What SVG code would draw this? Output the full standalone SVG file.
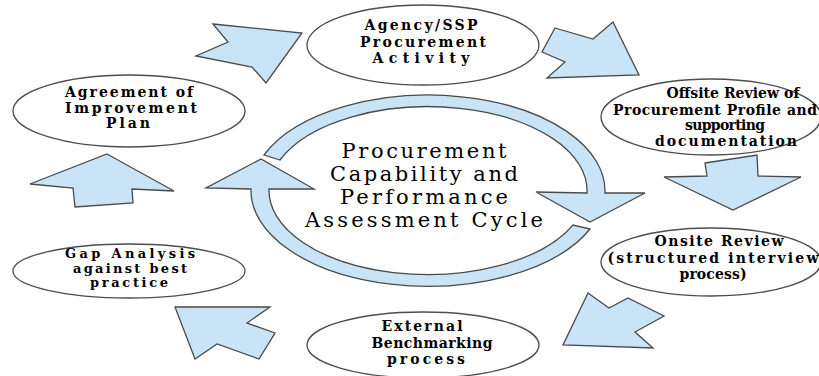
<svg xmlns="http://www.w3.org/2000/svg" width="819" height="376" viewBox="0 0 819 376">
<style>
.bg{fill:#ffffff}
.node{fill:#ffffff;stroke:#4d4d4d;stroke-width:1.3}
.arw{fill:#c9e4f7;stroke:#4a4a4a;stroke-width:1.3;stroke-linejoin:miter}
.t{font-family:"DejaVu Serif","Liberation Serif",serif;font-weight:bold;font-size:14px;fill:#000;text-anchor:middle}
.s{font-size:13px}
.c{font-family:"DejaVu Serif","Liberation Serif",serif;font-size:21px;fill:#000;text-anchor:middle}
</style>
<rect class="bg" x="0" y="0" width="819" height="376"/>
<g id="connectors">
  <polygon class="arw" points="213,24 302,33 266,83 252,67 196,56 228,42"/>
  <polygon class="arw" points="555,28 593,39 613,22 639,75 547,78 565,62 542,52"/>
  <polygon class="arw" points="705,163 757,155 758,176 801,177 733,210 664,177 707,176"/>
  <polygon class="arw" points="588,293 609,308 628,298 664,316 635,332 653,348 563,345"/>
  <polygon class="arw" points="175,307 270,307 247,323 275,333 259,359 217,344 195,359"/>
  <polygon class="arw" points="107,154 174,191 132,189 133,203 75,207 73,188 30,184"/>
</g>
<g id="cycle">
  <path class="arw" d="M264,155 A177,96 0 0 1 605,193 L645,193 L590,222 L536,192 L587,193 A159,84 0 0 0 280,160 Z"/>
  <path class="arw" d="M590,229 A177,96 0 0 1 251,189 L206,188 L261,159 L314,189 L269,189 A159,84 0 0 0 573,225 Z"/>
  <text class="c" x="424" y="158" textLength="165" lengthAdjust="spacing">Procurement</text>
  <text class="c" x="424" y="181" textLength="188" lengthAdjust="spacing">Capability and</text>
  <text class="c" x="424" y="204" textLength="168" lengthAdjust="spacing">Performance</text>
  <text class="c" x="424" y="227" textLength="238" lengthAdjust="spacing">Assessment Cycle</text>
</g>
<g id="agency">
  <ellipse class="node" cx="423" cy="45" rx="116" ry="40"/>
  <text class="t" x="421" y="30" textLength="113" lengthAdjust="spacing">Agency/SSP</text>
  <text class="t" x="423" y="47" textLength="126" lengthAdjust="spacing">Procurement</text>
  <text class="t" x="421" y="63" textLength="97" lengthAdjust="spacing">Activity</text>
</g>
<g id="offsite">
  <ellipse class="node" cx="711" cy="117" rx="110" ry="38"/>
  <text class="t" x="733" y="98" textLength="133" lengthAdjust="spacing">Offsite Review of</text>
  <text class="t" x="715" y="115" textLength="204" lengthAdjust="spacing">Procurement Profile and</text>
  <text class="t" x="725" y="130" textLength="80" lengthAdjust="spacing">supporting</text>
  <text class="t" x="726" y="146" textLength="142" lengthAdjust="spacing">documentation</text>
</g>
<g id="onsite">
  <ellipse class="node" cx="711" cy="262" rx="110" ry="34"/>
  <text class="t" x="719" y="246" textLength="129" lengthAdjust="spacing">Onsite Review</text>
  <text class="t" x="713" y="263" textLength="211" lengthAdjust="spacing">(structured interview</text>
  <text class="t" x="713" y="279" textLength="67" lengthAdjust="spacing">process)</text>
</g>
<g id="external">
  <ellipse class="node" cx="423" cy="345" rx="116" ry="33"/>
  <text class="t" x="422" y="331" textLength="81" lengthAdjust="spacing">External</text>
  <text class="t" x="432" y="348" textLength="121" lengthAdjust="spacing">Benchmarking</text>
  <text class="t" x="426" y="364" textLength="78" lengthAdjust="spacing">process</text>
</g>
<g id="gap">
  <ellipse class="node" cx="129" cy="271" rx="116" ry="27"/>
  <text class="t s" x="130" y="258" textLength="130" lengthAdjust="spacing">Gap Analysis</text>
  <text class="t s" x="130" y="273" textLength="114" lengthAdjust="spacing">against best</text>
  <text class="t s" x="129" y="287" textLength="78" lengthAdjust="spacing">practice</text>
</g>
<g id="agreement">
  <ellipse class="node" cx="129" cy="111" rx="116" ry="36"/>
  <text class="t" x="129" y="97" textLength="128" lengthAdjust="spacing">Agreement of</text>
  <text class="t" x="131" y="113" textLength="132" lengthAdjust="spacing">Improvement</text>
  <text class="t" x="128" y="128" textLength="44" lengthAdjust="spacing">Plan</text>
</g>
</svg>
